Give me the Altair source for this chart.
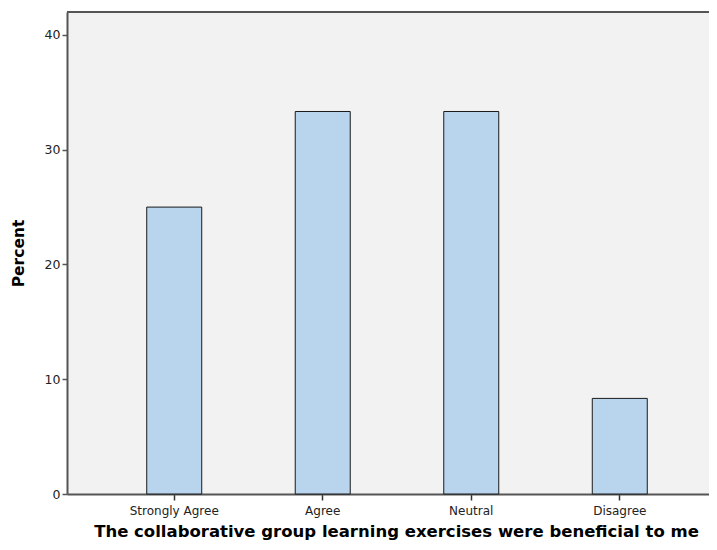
import altair as alt
import pandas as pd

categories = ["Strongly Agree", "Agree", "Neutral", "Disagree"]
percents = [25.0, 33.33, 33.33, 8.33]
y_ticks = [0, 10, 20, 30, 40]
y_max = 42

df = pd.DataFrame({"cat": categories, "pct": percents})

FONT = "DejaVu Sans"

base = alt.Chart(df)

bars = base.mark_bar(
    fill="#b8d5ed", stroke="#1a1a1a", strokeWidth=1, width=55
).encode(
    x=alt.X("cat:N", sort=categories,
            scale=alt.Scale(range=[0, 660], paddingInner=0.63, paddingOuter=0.537),
            axis=alt.Axis(title="The collaborative group learning exercises were beneficial to me",
                          labelAngle=0, labelFontSize=12, labelColor="#222", labelFont=FONT,
                          labelPadding=5, tickSize=6, tickColor="#333", tickWidth=1.5,
                          domain=True, domainColor="#555", domainWidth=2,
                          titleFont=FONT, titleFontSize=16.5, titleFontWeight="bold",
                          titleColor="#000", titlePadding=7, titleX=329)),
    y=alt.Y("pct:Q", scale=alt.Scale(domain=[0, y_max], nice=False),
            axis=alt.Axis(title="Percent", values=y_ticks, grid=False,
                          labelFontSize=12.5, labelColor="#222", labelFont=FONT,
                          tickSize=5, tickColor="#555", tickWidth=1.5,
                          domainColor="#555", domainWidth=2,
                          titleFont=FONT, titleFontSize=15.5, titleFontWeight="bold",
                          titleColor="#000", titlePadding=18)),
)

top_rule = base.mark_rule(color="#555", strokeWidth=2).encode(
    y=alt.datum(y_max),
    x=alt.value(0), x2=alt.value(642),
)

chart = alt.layer(bars, top_rule).properties(
    width=642, height=482,
    autosize=alt.AutoSizeParams(type="none"),
    padding={"left": 59, "top": 4, "right": 0, "bottom": 48},
).configure_view(
    fill="#f2f2f2", stroke=None
)

chart.save("out.html", embed_options={"renderer": "svg", "actions": False})
